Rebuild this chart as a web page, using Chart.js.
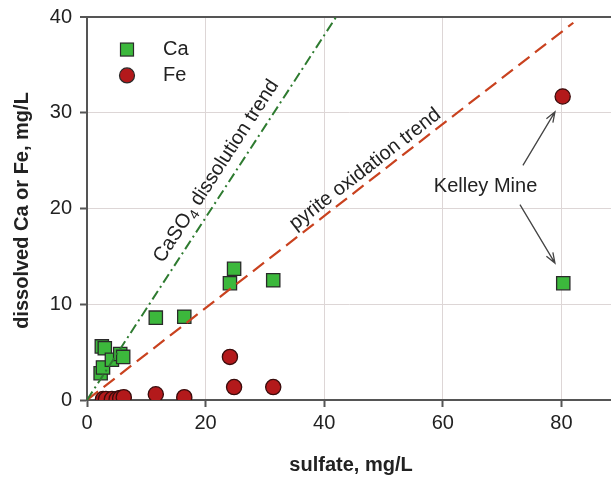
<!DOCTYPE html>
<html>
<head>
<meta charset="utf-8">
<script src="https://cdn.jsdelivr.net/npm/chart.js@4/dist/chart.umd.min.js"></script>
<style>
  html, body { margin: 0; padding: 0; background: #fff; overflow: hidden; }
  #wrap { width: 622px; height: 479px; }
</style>
</head>
<body>
<div id="wrap"><canvas id="SulfateChart" width="622" height="479"></canvas></div>
<script>
// values (mg/L)
var caX = [2.3, 2.7, 2.5, 3.0, 4.2, 5.6, 6.1, 11.6, 16.4, 24.1, 24.8, 31.4, 80.3];
var caY = [2.8, 3.4, 5.6, 5.4, 4.2, 4.8, 4.5, 8.6, 8.7, 12.2, 13.7, 12.5, 12.2];

var feX = [2.7, 3.2, 4.2, 5.0, 5.6, 6.2, 11.6, 16.4, 24.1, 24.8, 31.4, 80.2];
var feY = [0.1, 0.1, 0.1, 0.1, 0.2, 0.3, 0.6, 0.3, 4.5, 1.35, 1.35, 31.7];

// trend lines
var caso4X = [0, 42];
var caso4Y = [0, 40];
var pyriteX = [0, 82];
var pyriteY = [0, 39.4];

var xTicks = [0, 20, 40, 60, 80];
var yTicks = [0, 10, 20, 30, 40];

const xTitle = 'sulfate, mg/L';
const yTitle = 'dissolved Ca or Fe, mg/L';
const kelleyLabel = 'Kelley Mine';
const pyriteLabel = 'pyrite oxidation trend';

const FONT = '"Liberation Sans", Arial, Helvetica, sans-serif';
const TEXT = '#222';

function toPoints(xs, ys) {
  var pts = [];
  for (var i = 0; i < xs.length; i++) pts.push({ x: xs[i], y: ys[i] });
  return pts;
}

// text, arrows, legend and axis titles drawn on top
var notes = {
  id: 'notes',
  afterDraw: function(chart) {
    var ctx = chart.ctx;
    var xs = chart.scales.x, ys = chart.scales.y;
    var area = chart.chartArea;
    function px(x) { return xs.getPixelForValue(x); }
    function py(y) { return ys.getPixelForValue(y); }
    function slope(lx, ly) {
      return Math.atan2(py(ly[1]) - py(ly[0]), px(lx[1]) - px(lx[0]));
    }

    ctx.save();
    ctx.fillStyle = TEXT;

    // CaSO4 dissolution trend
    ctx.save();
    ctx.translate(px(21.8), py(23.9));
    ctx.rotate(slope(caso4X, caso4Y));
    ctx.textBaseline = 'middle';
    ctx.textAlign = 'left';
    var big = '20px ' + FONT, small = '14px ' + FONT;
    ctx.font = big;
    var w1 = ctx.measureText('CaSO').width;
    var w3 = ctx.measureText(' dissolution trend').width;
    ctx.font = small;
    var w2 = ctx.measureText('4').width;
    var sx = -(w1 + w2 + w3) / 2;
    ctx.font = big;
    ctx.fillText('CaSO', sx, 0);
    ctx.font = small;
    ctx.fillText('4', sx + w1, 6);
    ctx.font = big;
    ctx.fillText(' dissolution trend', sx + w1 + w2, 0);
    ctx.restore();

    // pyrite oxidation trend
    ctx.save();
    ctx.translate(px(46.9), py(24.1));
    ctx.rotate(slope(pyriteX, pyriteY));
    ctx.font = '20px ' + FONT;
    ctx.textAlign = 'center';
    ctx.textBaseline = 'middle';
    ctx.fillText(pyriteLabel, 0, 0);
    ctx.restore();

    // Kelley Mine label and arrows
    ctx.font = '20px ' + FONT;
    ctx.textAlign = 'center';
    ctx.textBaseline = 'middle';
    ctx.fillText(kelleyLabel, px(67.2), py(22.3));

    function arrow(x0, y0, x1, y1) {
      var a = px(x0), b = py(y0), c = px(x1), d = py(y1);
      var ang = Math.atan2(d - b, c - a);
      ctx.beginPath();
      ctx.moveTo(a, b);
      ctx.lineTo(c, d);
      ctx.moveTo(c - 11 * Math.cos(ang - 0.35), d - 11 * Math.sin(ang - 0.35));
      ctx.lineTo(c, d);
      ctx.lineTo(c - 11 * Math.cos(ang + 0.35), d - 11 * Math.sin(ang + 0.35));
      ctx.stroke();
    }
    ctx.strokeStyle = '#444';
    ctx.lineWidth = 1.3;
    arrow(73.5, 24.5, 78.9, 30.1);
    arrow(73.0, 20.4, 78.9, 14.3);

    // legend
    var lx = area.left + 40;
    var ly1 = py(36.6), ly2 = py(33.9);
    ctx.fillStyle = '#3cb83c';
    ctx.strokeStyle = '#2a2a2a';
    ctx.lineWidth = 1.2;
    ctx.fillRect(lx - 6.5, ly1 - 6.5, 13, 13);
    ctx.strokeRect(lx - 6.5, ly1 - 6.5, 13, 13);
    ctx.fillStyle = '#b3191b';
    ctx.beginPath();
    ctx.arc(lx, ly2, 7.5, 0, Math.PI * 2);
    ctx.fill();
    ctx.stroke();
    ctx.fillStyle = TEXT;
    ctx.font = '20px ' + FONT;
    ctx.textAlign = 'left';
    ctx.fillText('Ca', lx + 36, ly1);
    ctx.fillText('Fe', lx + 36, ly2);

    // axis titles
    ctx.font = 'bold 20px ' + FONT;
    ctx.textAlign = 'center';
    ctx.fillText(xTitle, 351, 465);
    ctx.save();
    ctx.translate(22, (py(0) + py(40)) / 2 + 2);
    ctx.rotate(-Math.PI / 2);
    ctx.fillText(yTitle, 0, 0);
    ctx.restore();

    ctx.restore();
  }
};

var data = {
  datasets: [
    {
      label: 'CaSO4 dissolution trend',
      type: 'line',
      data: toPoints(caso4X, caso4Y),
      borderColor: '#2e7b30',
      borderWidth: 2,
      borderDash: [10, 4, 2, 4],
      pointRadius: 0,
      fill: false,
      order: 1
    },
    {
      label: 'pyrite oxidation trend',
      type: 'line',
      data: toPoints(pyriteX, pyriteY),
      borderColor: '#c9421f',
      borderWidth: 2.2,
      borderDash: [14, 7],
      pointRadius: 0,
      fill: false,
      order: 1
    },
    {
      label: 'Ca',
      data: toPoints(caX, caY),
      pointStyle: 'rect',
      pointRadius: 9.4,
      backgroundColor: '#3cb83c',
      borderColor: '#2a2a2a',
      borderWidth: 1.3,
      order: 2
    },
    {
      label: 'Fe',
      data: toPoints(feX, feY),
      pointStyle: 'circle',
      pointRadius: 7.6,
      backgroundColor: '#b3191b',
      borderColor: '#3a0c0c',
      borderWidth: 1.3,
      order: 2
    }
  ]
};

var config = {
  type: 'scatter',
  data: data,
  options: {
    responsive: false,
    animation: false,
    layout: { padding: { top: 16, right: 0, bottom: 0, left: 0 } },
    plugins: {
      legend: { display: false },
      tooltip: { enabled: false }
    },
    scales: {
      x: {
        type: 'linear',
        min: 0,
        max: 88.4,
        afterFit: function(scale) { scale.height = 79; },
        afterBuildTicks: function(scale) {
          scale.ticks = xTicks.map(function(v) { return { value: v }; });
        },
        ticks: {
          color: TEXT,
          padding: 4,
          maxRotation: 0,
          font: { family: FONT, size: 20 }
        },
        grid: {
          color: '#ddd6d6',
          lineWidth: 1,
          tickColor: '#555',
          tickLength: 7,
          tickWidth: 2
        },
        border: { color: '#555', width: 2 }
      },
      y: {
        type: 'linear',
        min: 0,
        max: 40,
        afterFit: function(scale) { scale.width = 87; },
        afterBuildTicks: function(scale) {
          scale.ticks = yTicks.map(function(v) { return { value: v }; });
        },
        ticks: {
          color: TEXT,
          padding: 8,
          font: { family: FONT, size: 20, lineHeight: 0.9 }
        },
        grid: {
          color: function(c) { return c.tick && c.tick.value === 40 ? '#555' : '#ddd6d6'; },
          lineWidth: function(c) { return c.tick && c.tick.value === 40 ? 2 : 1; },
          tickColor: '#555',
          tickLength: 7,
          tickWidth: 2
        },
        border: { color: '#555', width: 2 }
      }
    }
  },
  plugins: [notes]
};

var SulfateChart = new Chart(document.getElementById('SulfateChart'), config);
</script>
</body>
</html>
